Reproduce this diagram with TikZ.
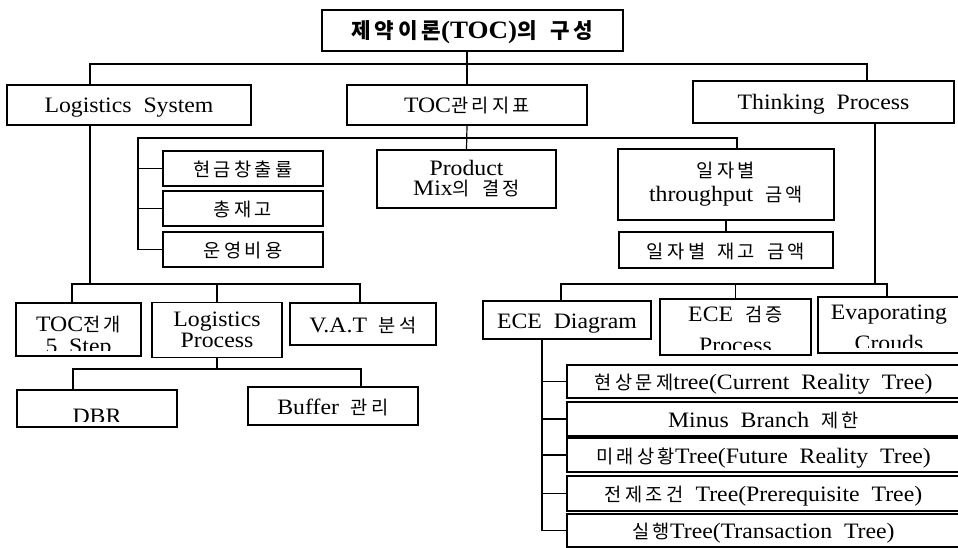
\documentclass[tikz,border=0pt]{standalone}
\usepackage{fontspec}
\setmainfont{Liberation Serif}[FakeStretch=1.08, WordSpace=2]
\newfontfamily\krfont{Noto Sans CJK KR}[Scale=0.85, LetterSpace=18, WordSpace=1.6]
\newcommand\kr[1]{{\krfont #1}}

\tikzset{
  box/.style={draw, line width=1.3pt, inner sep=0pt,
    font=\fontsize{22}{24}\selectfont},
  tbox/.style={box, text height=16pt, text depth=0pt},
  link/.style={line width=1.2pt},
  cutbox/.style 2 args={path picture={
    \clip (path picture bounding box.north west) rectangle ([yshift=6pt]path picture bounding box.south east);
    \node[align=center, font=\fontsize{22}{#1}\selectfont]
      at ([yshift=#2]path picture bounding box.center) {\cuttext};}},
}

\begin{document}
\begin{tikzpicture}[x=1pt,y=-1pt]
\useasboundingbox (0,0) rectangle (958,548);

% top level
\node[tbox, minimum width=301, minimum height=41, font=\bfseries\fontsize{25}{28}\selectfont] (title) at (472.5,30.5) {\kr{제약이론}(TOC)\kr{의 구성}};
\node[tbox, minimum width=244, minimum height=40] (ls) at (129,105) {Logistics System};
\node[tbox, minimum width=240, minimum height=40] (toc) at (467,105) {TOC\kr{관리지표}};
\node[tbox, minimum width=261, minimum height=42] (tp) at (823.5,102) {Thinking Process};

% TOC관리지표
\node[tbox, minimum width=160, minimum height=35] (cash) at (243,168.5) {\kr{현금창출률}};
\node[tbox, minimum width=160, minimum height=35] (inv) at (243,208.5) {\kr{총재고}};
\node[tbox, minimum width=160, minimum height=35] (opex) at (243,249.5) {\kr{운영비용}};
\node[box, minimum width=179, minimum height=58, align=center, font=\fontsize{22}{20}\selectfont] (pmix) at (466.5,179) {Product\\Mix\kr{의 결정}};
\node[box, minimum width=216, minimum height=71, align=center, font=\fontsize{22}{24}\selectfont] (thr) at (726,184.5) {\kr{일자별}\\throughput \kr{금액}};
\node[tbox, minimum width=214, minimum height=36] (dinv) at (726,250) {\kr{일자별 재고 금액}};

% Logistics System
\def\cuttext{TOC\kr{전개}\\5 Step}
\node[box, minimum width=125, minimum height=53, cutbox={22}{-8pt}] (step5) at (78.5,329.5) {};
\node[box, minimum width=130, minimum height=55, align=center, font=\fontsize{22}{21}\selectfont] (lp) at (217,330) {Logistics\\Process};
\node[tbox, minimum width=146, minimum height=42] (vat) at (363,324) {V.A.T \kr{분석}};
\def\cuttext{DBR}
\node[box, minimum width=160, minimum height=37, cutbox={24}{-8pt}] (dbr) at (97,408.5) {};
\node[tbox, minimum width=170, minimum height=38] (buf) at (333,406) {Buffer \kr{관리}};

% Thinking Process
\node[tbox, minimum width=168, minimum height=38] (ece) at (567,320) {ECE Diagram};
\def\cuttext{ECE \kr{검증}\\Process}
\node[box, minimum width=151, minimum height=56, cutbox={31}{-2pt}] (eceV) at (735.5,327) {};
\def\cuttext{Evaporating\\Crouds}
\node[box, minimum width=142, minimum height=56, cutbox={31}{-3pt}] (evap) at (889,325) {};
\node[tbox, minimum width=393, minimum height=33] (crt) at (763.5,381.5) {\kr{현상문제}tree(Current Reality Tree)};
\node[tbox, minimum width=393, minimum height=34] (mb) at (763.5,419) {Minus Branch \kr{제한}};
\node[tbox, minimum width=393, minimum height=34] (frt) at (763.5,455) {\kr{미래상황}Tree(Future Reality Tree)};
\node[tbox, minimum width=393, minimum height=35] (prt) at (763.5,493.5) {\kr{전제조건} Tree(Prerequisite Tree)};
\node[tbox, minimum width=393, minimum height=33] (trt) at (763.5,530.5) {\kr{실행}Tree(Transaction Tree)};

% connectors
\coordinate (topL) at (90,64); \coordinate (topR) at (867,64);
\draw[link] (ls.north -| topL) -- (topL) -- (topR) -- (tp.north -| topR);
\draw[link] (title.south -| toc.north) -- (toc.north);

\coordinate (midL) at (138,138); \coordinate (midR) at (737,138);
\draw[link] (toc.south) -- (pmix.north);
\draw[link] (opex.west) -| (midL) -- (midR) -- (thr.north -| midR);
\foreach \n in {cash,inv} \draw[link] (\n.west) -- (\n.west -| midL);
\draw[link] (thr) -- (dinv);

\coordinate (lsL) at (72,284); \coordinate (lsR) at (360,284);
\draw[link] (ls.south -| topL) -- (topL |- lsL);
\draw[link] (step5.north -| lsL) -- (lsL) -- (lsR) -- (vat.north -| lsR);
\draw[link] (lp.north) -- (lp.north |- lsL);

\coordinate (lpL) at (73,369); \coordinate (lpR) at (361,369);
\draw[link] (lp.south) -- (lp.south |- lpL);
\draw[link] (dbr.north -| lpL) -- (lpL) -- (lpR) -- (buf.north -| lpR);

\coordinate (tpD) at (875,284); \coordinate (tpL) at (561,284); \coordinate (tpR) at (887,284);
\draw[link] (tp.south -| tpD) -- (tpD);
\draw[link] (ece.north -| tpL) -- (tpL) -- (tpR) -- (evap.north -| tpR);
\draw[link] (eceV.north) -- (eceV.north |- tpL);

\coordinate (eceD) at (542,339);
\draw[link] (ece.south -| eceD) |- (trt.west);
\foreach \n in {crt,mb,frt,prt} \draw[link] (\n.west) -- (\n.west -| eceD);
\end{tikzpicture}
\end{document}
